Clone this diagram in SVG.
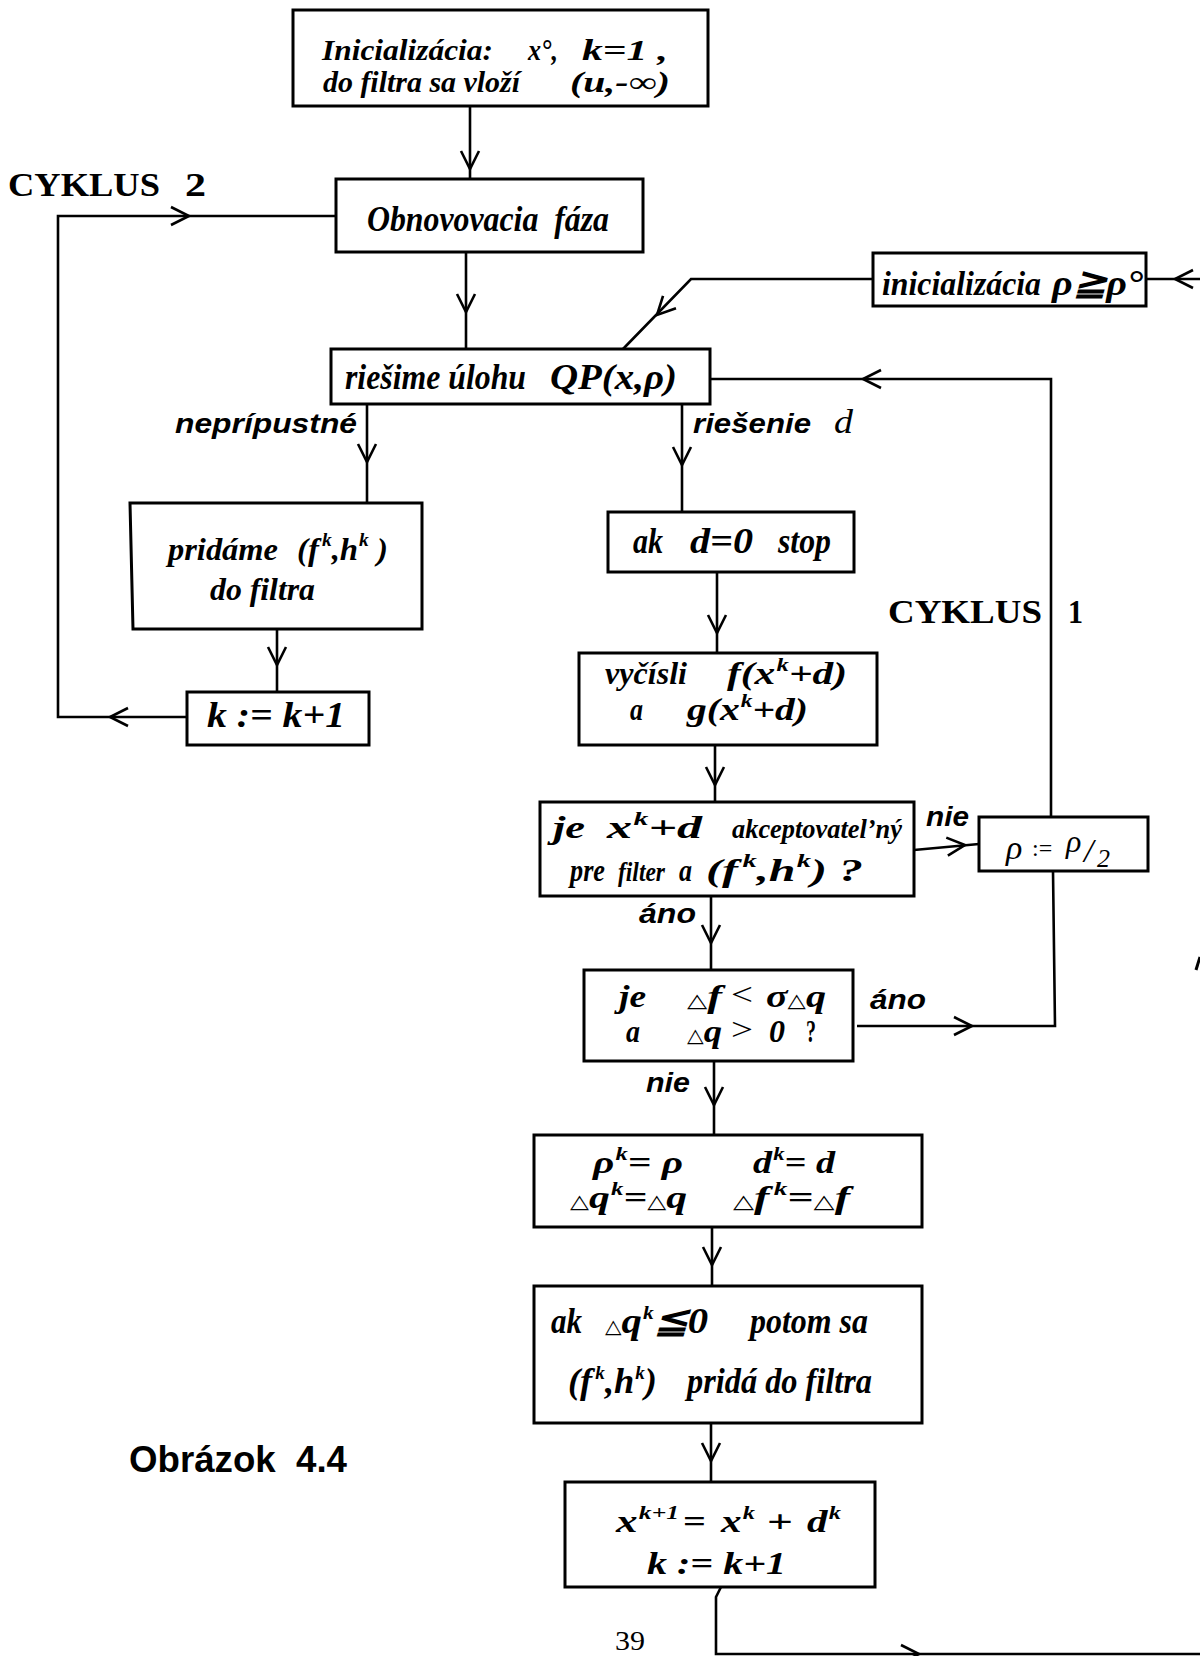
<svg xmlns="http://www.w3.org/2000/svg" width="1200" height="1656" viewBox="0 0 1200 1656">
<defs>
<style>
.b{fill:#fff;stroke:#000;stroke-width:3}
.l{fill:none;stroke:#000;stroke-width:2.6}
.t{font-family:"Liberation Serif","DejaVu Serif",serif;font-weight:bold;font-style:italic;font-size:32px;fill:#000}
.big{font-size:36px}
.ini{font-size:29px}
.up{font-style:normal}
.m{font-family:"Liberation Serif","DejaVu Serif",serif;font-style:italic;font-size:34px;fill:#000}
.s{font-family:"Liberation Sans",Arial,sans-serif;font-weight:bold;font-style:italic;font-size:27px;fill:#000}
.c{font-family:"Liberation Serif","DejaVu Serif",serif;font-weight:bold;font-size:34px;fill:#000}
.sup{font-size:19px}
.tri{font-family:"DejaVu Sans",sans-serif;font-size:19px;font-style:normal}
</style>
<path id="ch" d="M-18,-9 L0,0 L-18,9" fill="none" stroke="#000" stroke-width="2.6"/>
</defs>
<rect width="1200" height="1656" fill="#fff"/>

<g id="connectors">
<path class="l" d="M470,106 V179"/>
<use href="#ch" transform="translate(470,169) rotate(90)"/>
<path class="l" d="M466,252 V349"/>
<use href="#ch" transform="translate(466,312) rotate(90)"/>
<path class="l" d="M873,279 H691 L623,349"/>
<use href="#ch" transform="translate(657,315) rotate(134)"/>
<path class="l" d="M1200,279 H1146"/>
<use href="#ch" transform="translate(1175,279) rotate(180)"/>
<path class="l" d="M367,404 V503"/>
<use href="#ch" transform="translate(367,462) rotate(90)"/>
<path class="l" d="M682,404 V512"/>
<use href="#ch" transform="translate(682,465) rotate(90)"/>
<path class="l" d="M277,629 V692"/>
<use href="#ch" transform="translate(277,665) rotate(90)"/>
<path class="l" d="M187,717 H58 V216 H336"/>
<use href="#ch" transform="translate(110,717) rotate(180)"/>
<use href="#ch" transform="translate(189,216)"/>
<path class="l" d="M717,572 V653"/>
<use href="#ch" transform="translate(717,633) rotate(90)"/>
<path class="l" d="M715,745 V802"/>
<use href="#ch" transform="translate(715,785) rotate(90)"/>
<path class="l" d="M914,850 L979,844"/>
<use href="#ch" transform="translate(965,845) rotate(-5)"/>
<path class="l" d="M711,896 V970"/>
<use href="#ch" transform="translate(711,943) rotate(90)"/>
<path class="l" d="M857,1026 H1055 L1053,871"/>
<use href="#ch" transform="translate(972,1026)"/>
<path class="l" d="M1051,817 V379 H710"/>
<use href="#ch" transform="translate(863,379) rotate(180)"/>
<path class="l" d="M714,1061 V1135"/>
<use href="#ch" transform="translate(714,1105) rotate(90)"/>
<path class="l" d="M712,1227 V1286"/>
<use href="#ch" transform="translate(712,1265) rotate(90)"/>
<path class="l" d="M711,1423 V1482"/>
<use href="#ch" transform="translate(711,1461) rotate(90)"/>
<path class="l" d="M721,1587 L716,1597 V1654 H1200"/>
<use href="#ch" transform="translate(919,1654)"/>
<path class="l" d="M1196,970 L1200,957" style="stroke-width:3"/>
</g>

<g id="labels">
<text class="s" x="175" y="433" textLength="182" lengthAdjust="spacingAndGlyphs">neprípustné</text>
<text class="s" x="693" y="433" textLength="118" lengthAdjust="spacingAndGlyphs">riešenie</text>
<text class="m" x="834" y="433" textLength="19" lengthAdjust="spacingAndGlyphs">d</text>
<text class="s" x="926" y="826" textLength="43" lengthAdjust="spacingAndGlyphs">nie</text>
<text class="s" x="639" y="923" textLength="57" lengthAdjust="spacingAndGlyphs">áno</text>
<text class="s" x="870" y="1009" textLength="56" lengthAdjust="spacingAndGlyphs">áno</text>
<text class="s" x="646" y="1092" textLength="44" lengthAdjust="spacingAndGlyphs">nie</text>
</g>

<g id="cyklus2">
<text class="c" x="8" y="196" textLength="152" lengthAdjust="spacingAndGlyphs">CYKLUS</text>
<text class="c" x="185" y="196" textLength="21" lengthAdjust="spacingAndGlyphs">2</text>
</g>
<g id="cyklus1">
<text class="c" x="888" y="623" textLength="154" lengthAdjust="spacingAndGlyphs">CYKLUS</text>
<text class="c" x="1068" y="623" textLength="15" lengthAdjust="spacingAndGlyphs">1</text>
</g>

<g id="init">
<rect class="b" x="293" y="10" width="415" height="96"/>
<text class="t ini" x="322" y="60" textLength="171" lengthAdjust="spacingAndGlyphs">Inicializácia:</text>
<text class="t ini" x="528" y="60" textLength="30" lengthAdjust="spacingAndGlyphs">x°,</text>
<text class="t ini" x="582" y="60" textLength="86" lengthAdjust="spacingAndGlyphs" xml:space="preserve">k=1 ,</text>
<text class="t ini" x="323" y="92" textLength="197" lengthAdjust="spacingAndGlyphs">do filtra sa vloží</text>
<text class="t ini" x="570" y="92" textLength="100" lengthAdjust="spacingAndGlyphs">(u,-∞)</text>
</g>

<g id="obnova">
<rect class="b" x="336" y="179" width="307" height="73"/>
<text class="t big" x="367" y="231" textLength="242" lengthAdjust="spacingAndGlyphs" xml:space="preserve">Obnovovacia  fáza</text>
</g>

<g id="inicializacia-rho">
<rect class="b" x="873" y="253" width="273" height="53"/>
<text class="t" x="882" y="295" style="font-size:33px" textLength="159" lengthAdjust="spacingAndGlyphs">inicializácia</text>
<text class="t big" x="1052" y="295" textLength="91" lengthAdjust="spacingAndGlyphs">ρ≧ρ°</text>
</g>

<g id="riesime">
<rect class="b" x="331" y="349" width="379" height="55"/>
<text class="t big" x="345" y="389" textLength="181" lengthAdjust="spacingAndGlyphs">riešime úlohu</text>
<text class="t big" x="550" y="389" textLength="127" lengthAdjust="spacingAndGlyphs">QP(x,ρ)</text>
</g>

<g id="pridame">
<polygon class="b" points="130,503 422,503 422,629 133,629"/>
<text class="t" x="168" y="560" textLength="110" lengthAdjust="spacingAndGlyphs">pridáme</text>
<text class="t" x="297" y="560" textLength="91" lengthAdjust="spacingAndGlyphs">(f<tspan class="sup" dx="3" dy="-14">k</tspan><tspan dy="14">,h</tspan><tspan class="sup" dx="1" dy="-14">k</tspan><tspan dy="14"> )</tspan></text>
<text class="t" x="210" y="600" textLength="105" lengthAdjust="spacingAndGlyphs">do filtra</text>
</g>

<g id="k-inc">
<rect class="b" x="187" y="692" width="182" height="53"/>
<text class="t big" x="207" y="727" textLength="138" lengthAdjust="spacingAndGlyphs">k := k+1</text>
</g>

<g id="ak-stop">
<rect class="b" x="608" y="512" width="246" height="60"/>
<text class="t big" x="633" y="553" textLength="30" lengthAdjust="spacingAndGlyphs">ak</text>
<text class="t big" x="690" y="553" textLength="63" lengthAdjust="spacingAndGlyphs">d=0</text>
<text class="t big" x="778" y="553" textLength="53" lengthAdjust="spacingAndGlyphs">stop</text>
</g>

<g id="vycisli">
<rect class="b" x="579" y="653" width="298" height="92"/>
<text class="t" x="605" y="684" textLength="82" lengthAdjust="spacingAndGlyphs">vyčísli</text>
<text class="t" x="727" y="684" textLength="120" lengthAdjust="spacingAndGlyphs">f(x<tspan class="sup" dx="1" dy="-13">k</tspan><tspan dy="13">+d)</tspan></text>
<text class="t" x="630" y="720" textLength="13" lengthAdjust="spacingAndGlyphs">a</text>
<text class="t" x="687" y="720" textLength="121" lengthAdjust="spacingAndGlyphs">g(x<tspan class="sup" dx="1" dy="-13">k</tspan><tspan dy="13">+d)</tspan></text>
</g>

<g id="akceptovatelny">
<rect class="b" x="540" y="802" width="374" height="94"/>
<text class="t" x="553" y="838" textLength="32" lengthAdjust="spacingAndGlyphs">je</text>
<text class="t" x="607" y="838" textLength="95" lengthAdjust="spacingAndGlyphs">x<tspan class="sup" dx="1" dy="-13">k</tspan><tspan dy="13">+d</tspan></text>
<text class="t" x="732" y="838" style="font-size:28px" textLength="170" lengthAdjust="spacingAndGlyphs">akceptovatel’ný</text>
<text class="t" x="570" y="881" textLength="35" lengthAdjust="spacingAndGlyphs">pre</text>
<text class="t" x="618" y="881" style="font-size:28px" textLength="47" lengthAdjust="spacingAndGlyphs">filter</text>
<text class="t" x="679" y="881" textLength="13" lengthAdjust="spacingAndGlyphs">a</text>
<text class="t" x="706" y="881" textLength="157" lengthAdjust="spacingAndGlyphs">(f<tspan class="sup" dx="3" dy="-14">k</tspan><tspan dy="14">,h</tspan><tspan class="sup" dx="1" dy="-14">k</tspan><tspan dy="14">) ?</tspan></text>
</g>

<g id="rho-half">
<rect class="b" x="979" y="817" width="169" height="54"/>
<text class="m"><tspan x="1006" y="859">ρ</tspan><tspan x="1032" y="856" font-size="24" font-style="normal">:=</tspan><tspan x="1066" y="852" font-size="32">ρ</tspan><tspan x="1084" y="862">/</tspan><tspan x="1097" y="867" font-size="26">2</tspan></text>
</g>

<g id="sufficient-decrease">
<rect class="b" x="584" y="970" width="269" height="91"/>
<text class="t" x="619" y="1007" textLength="27" lengthAdjust="spacingAndGlyphs">je</text>
<text class="t" x="687" y="1007" textLength="35" lengthAdjust="spacingAndGlyphs"><tspan class="tri">△</tspan>f</text>
<text class="t up" x="731" y="1005" style="font-weight:normal" textLength="22" lengthAdjust="spacingAndGlyphs">&lt;</text>
<text class="t" x="766" y="1007" textLength="60" lengthAdjust="spacingAndGlyphs">σ<tspan class="tri">△</tspan>q</text>
<text class="t" x="626" y="1042" textLength="14" lengthAdjust="spacingAndGlyphs">a</text>
<text class="t" x="687" y="1042" textLength="35" lengthAdjust="spacingAndGlyphs"><tspan class="tri">△</tspan>q</text>
<text class="t up" x="731" y="1040" style="font-weight:normal" textLength="22" lengthAdjust="spacingAndGlyphs">&gt;</text>
<text class="t" x="769" y="1042" textLength="16" lengthAdjust="spacingAndGlyphs">0</text>
<text class="t up" x="806" y="1042" textLength="10" lengthAdjust="spacingAndGlyphs">?</text>
</g>

<g id="store-k">
<rect class="b" x="534" y="1135" width="388" height="92"/>
<text class="t" x="593" y="1173" textLength="90" lengthAdjust="spacingAndGlyphs">ρ<tspan class="sup" dx="1" dy="-13">k</tspan><tspan dy="13">= ρ</tspan></text>
<text class="t" x="753" y="1173" textLength="82" lengthAdjust="spacingAndGlyphs">d<tspan class="sup" dx="1" dy="-13">k</tspan><tspan dy="13">= d</tspan></text>
<text class="t" x="570" y="1208" textLength="117" lengthAdjust="spacingAndGlyphs"><tspan class="tri">△</tspan>q<tspan class="sup" dx="1" dy="-13">k</tspan><tspan dy="13">=</tspan><tspan class="tri">△</tspan>q</text>
<text class="t" x="733" y="1208" textLength="117" lengthAdjust="spacingAndGlyphs"><tspan class="tri">△</tspan>f<tspan class="sup" dx="3" dy="-13">k</tspan><tspan dy="13">=</tspan><tspan class="tri">△</tspan>f</text>
</g>

<g id="add-filter">
<rect class="b" x="534" y="1286" width="388" height="137"/>
<text class="t big" x="551" y="1333" textLength="31" lengthAdjust="spacingAndGlyphs">ak</text>
<text class="t big" x="605" y="1333" textLength="103" lengthAdjust="spacingAndGlyphs"><tspan class="tri">△</tspan>q<tspan class="sup" dx="1" dy="-14">k</tspan><tspan dy="14">≦0</tspan></text>
<text class="t big" x="750" y="1333" textLength="118" lengthAdjust="spacingAndGlyphs">potom sa</text>
<text class="t big" x="568" y="1393" textLength="89" lengthAdjust="spacingAndGlyphs">(f<tspan class="sup" dx="3" dy="-14">k</tspan><tspan dy="14">,h</tspan><tspan class="sup" dx="1" dy="-14">k</tspan><tspan dy="14">)</tspan></text>
<text class="t big" x="687" y="1393" textLength="185" lengthAdjust="spacingAndGlyphs">pridá do filtra</text>
</g>

<g id="update">
<rect class="b" x="565" y="1482" width="310" height="105"/>
<text class="t" x="616" y="1532" textLength="63" lengthAdjust="spacingAndGlyphs">x<tspan class="sup" dx="1" dy="-13">k+1</tspan></text>
<text class="t up" x="683" y="1532" textLength="23" lengthAdjust="spacingAndGlyphs">=</text>
<text class="t" x="721" y="1532" textLength="34" lengthAdjust="spacingAndGlyphs">x<tspan class="sup" dx="1" dy="-13">k</tspan></text>
<text class="t up" x="767" y="1532" textLength="26" lengthAdjust="spacingAndGlyphs">+</text>
<text class="t" x="807" y="1532" textLength="34" lengthAdjust="spacingAndGlyphs">d<tspan class="sup" dx="1" dy="-13">k</tspan></text>
<text class="t" x="647" y="1574" textLength="139" lengthAdjust="spacingAndGlyphs">k := k+1</text>
</g>

<g id="caption">
<text x="129" y="1472" font-family="Liberation Sans, Arial, sans-serif" font-weight="bold" font-size="36" textLength="218" lengthAdjust="spacingAndGlyphs" xml:space="preserve">Obrázok  4.4</text>
<text x="615" y="1650" font-family="Liberation Serif, serif" font-size="27" textLength="30" lengthAdjust="spacingAndGlyphs">39</text>
</g>
</svg>
